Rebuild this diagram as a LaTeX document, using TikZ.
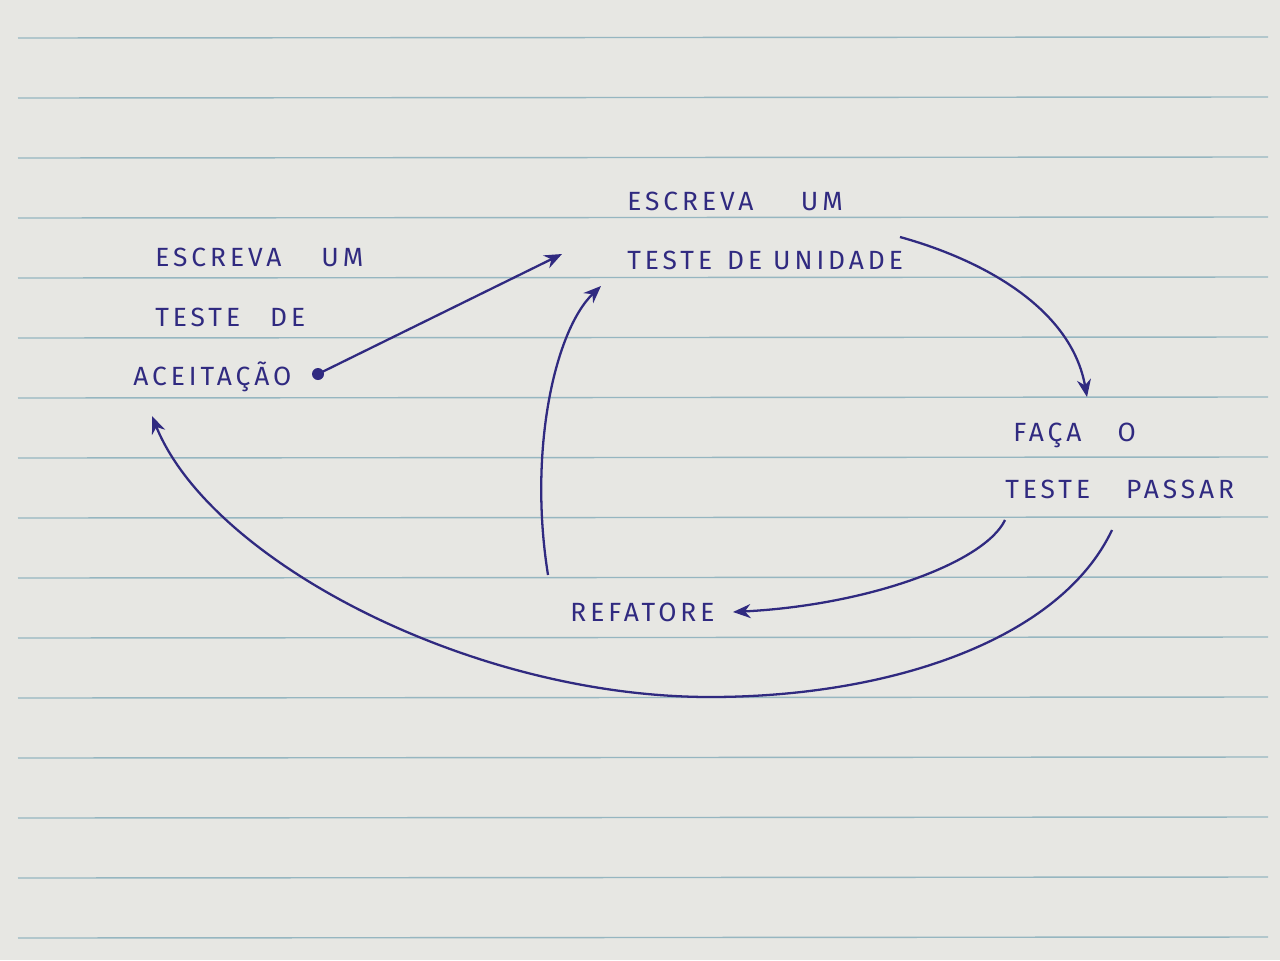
\documentclass[tikz,border=0pt]{standalone}
\usepackage{fontspec}
\usetikzlibrary{arrows.meta}
\newfontfamily\handfont[LetterSpace=15]{Fira Sans}
\definecolor{paper}{RGB}{231,231,227}
\definecolor{rule}{RGB}{150,182,192}
\definecolor{ink}{RGB}{48,42,128}
\newcommand{\wgap}[1]{\hspace*{#1}}
\tikzset{
  label text/.style={text=ink, inner sep=0pt, align=left,
    font=\handfont\fontsize{15}{34}\selectfont},
  ink arrow/.style={draw=ink, line width=1.3pt,
    -{Stealth[length=10pt,width=8pt]}},
  ruling/.style={draw=rule, line width=0.8pt}
}
\begin{document}
\begin{tikzpicture}[x=0.02cm,y=-0.02cm]
  \useasboundingbox (0,0) rectangle (1280,960);
  \fill[paper] (0,0) rectangle (1280,960);
  \foreach \k in {0,...,15} {
    \draw[ruling] (18,{38+60*\k}) -- (1268,{37+60*\k});
  }
  % text nodes
  \node[label text, anchor=west] (acc) at (133,320)
    {\wgap{0.44cm}ESCREVA\wgap{0.8cm}UM\\\wgap{0.44cm}TESTE\wgap{0.6cm}DE\\ACEITAÇÃO};
  \node[label text, anchor=west] (unit) at (627,231)
    {ESCREVA\wgap{0.95cm}UM\\TESTE\wgap{0.3cm}DE\wgap{0.22cm}UNIDADE};
  \node[label text, anchor=west, font=\handfont\fontsize{15}{32}\selectfont] (pass) at (1005,461)
    {\wgap{0.16cm}FAÇA\wgap{0.72cm}O\\TESTE\wgap{0.72cm}PASSAR};
  \node[label text, anchor=west] (ref) at (570,612) {REFATORE};
  % connector end points
  \coordinate (accOut) at (318,374);
  \coordinate (unitIn) at (562,254);
  \coordinate (unitOut) at (900,237);
  \coordinate (passIn) at (1087,397);
  \coordinate (passOutA) at (1005,520);
  \coordinate (refIn) at (733,612);
  \coordinate (passOutB) at (1112,530);
  \coordinate (low) at (710,697);
  \coordinate (accIn) at (152,416);
  \coordinate (refOut) at (548,575);
  \coordinate (unitIn2) at (601,286);
  % connectors
  \fill[ink] (accOut) circle (6);
  \draw[ink arrow] (accOut) -- (unitIn);
  \draw[ink arrow] (unitOut) .. controls (990,262) and (1072,312) .. (passIn);
  \draw[ink arrow] (passOutA) .. controls (985,562) and (870,605) .. (refIn);
  \draw[ink arrow] (passOutB) .. controls (1060,640) and (890,697) .. (low)
                   .. controls (470,697) and (210,560) .. (accIn);
  \draw[ink arrow] (refOut) .. controls (528,450) and (555,330) .. (unitIn2);
\end{tikzpicture}
\end{document}
